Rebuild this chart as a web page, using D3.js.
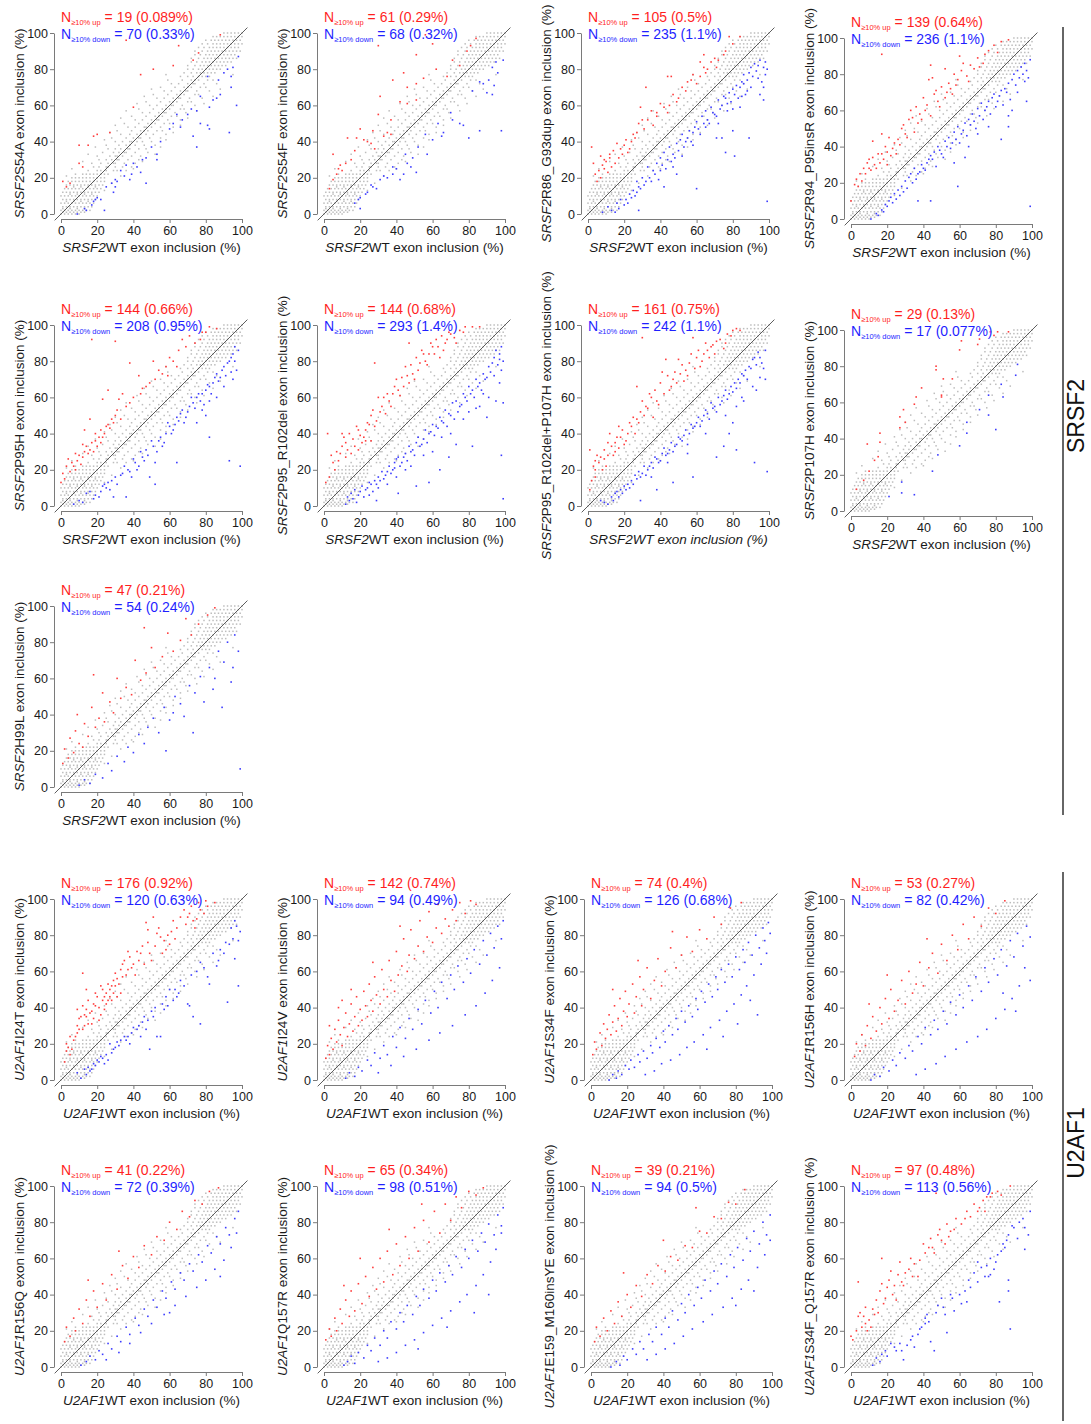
<!DOCTYPE html>
<html><head><meta charset="utf-8">
<script src="https://cdn.jsdelivr.net/npm/d3@7"></script>
<style>body{margin:0;background:#fff}svg{display:block;font-family:"Liberation Sans",Arial,sans-serif}</style>
</head><body><svg id="fig" width="1091" height="1424"></svg>
<script>
// ---- panel labels ----
const genes = ["SRSF2","SRSF2","SRSF2","SRSF2","SRSF2","SRSF2","SRSF2","SRSF2","SRSF2",
  "U2AF1","U2AF1","U2AF1","U2AF1","U2AF1","U2AF1","U2AF1","U2AF1"];
const mutants = ["S54A","S54F","R86_G93dup","R94_P95insR","P95H","P95_R102del","P95_R102del+P107H","P107H","H99L",
  "I24T","I24V","S34F","R156H","R156Q","Q157R","E159_M160insYE","S34F_Q157R"];
const upCount = [19,61,105,139,144,144,161,29,47,176,142,74,53,41,65,39,97];
const upPct = ["0.089","0.29","0.5","0.64","0.66","0.68","0.75","0.13","0.21","0.92","0.74","0.4","0.27","0.22","0.34","0.21","0.48"];
const downCount = [70,68,235,236,208,293,242,17,54,120,94,126,82,72,98,94,113];
const downPct = ["0.33","0.32","1.1","1.1","0.95","1.4","1.1","0.077","0.24","0.63","0.49","0.68","0.42","0.39","0.51","0.5","0.56"];
const tickValues = [0,20,40,60,80,100];
const groupNames = ["SRSF2","U2AF1"];

// ---- non-significant exons (shared cloud), listed as [y, [x...]] rows ----
const bgRows = [
 [0,[0,2,4,6,8,10]],[1,[1,3,5,7,9,11,13]],[2,[0,2,4,6,8,10,12,14,16]],[3,[1,5,9,13]],
 [4,[1,3,5,7,9,11,13,15,17]],[6,[0,2,4,6,8,10,12,14,16,18]],[7,[3,7,11,15]],
 [8,[1,3,5,7,9,11,13,15,17,19]],[10,[0,2,4,6,8,10,12,14,16,18,20]],[11,[5,9,13,17]],
 [12,[1,3,5,7,9,11,13,15,17,19,21]],[13,[24]],[14,[2,4,6,8,10,12,14,16,18,20,22]],[15,[7,11,15,19]],
 [16,[3,5,7,9,11,13,15,17,19,21,23]],[17,[28]],[18,[4,6,8,10,12,14,16,18,20,22,24]],
 [20,[6,8,10,12,14,16,18,20,22,24]],[21,[3,33]],[22,[8,12,14,16,18,20,22,24,26]],
 [24,[15,20,22,25,29,31,36]],[25,[6,40]],[26,[18,21,25,26,30,34,39]],[28,[17,22,26,29,30,35,41]],
 [29,[12,45]],[30,[21,25,28,31,32,37,43]],[32,[20,27,30,31,34,39,44]],[33,[15,52]],
 [34,[23,29,32,35,36,41,48]],[36,[26,30,33,37,38,43,47]],[37,[19,55]],[38,[25,32,36,38,41,46,52]],
 [40,[30,34,38,39,42,45,50]],[41,[24,58]],[42,[28,36,40,43,44,49,55]],[44,[33,38,42,44,47,51,58]],
 [45,[27,62]],[46,[31,39,44,46,48,53,56]],[48,[37,41,46,47,50,55,62]],[49,[30,66]],
 [50,[35,43,48,50,52,57,60]],[52,[41,45,50,53,54,59,66]],[53,[33,70]],[54,[39,47,52,54,56,61,64]],
 [56,[45,49,54,57,58,63,69]],[57,[36,75]],[58,[43,51,56,58,60,66,68]],[60,[49,53,58,61,62,67,74]],
 [61,[42,79]],[62,[47,55,60,62,64,70,72]],[64,[53,57,62,65,66,71,78]],[65,[46,84]],
 [66,[51,59,64,66,68,74,76]],[68,[57,61,66,69,70,75,82]],[69,[50,88]],[70,[55,63,68,70,72,77,80]],
 [72,[61,65,70,73,74,79,86]],[74,[59,67,72,74,76,81,84]],
 [76,[66,70,73,76,78,80,82]],[77,[58,95]],[78,[68,72,75,77,79,81,83,85]],[80,[70,73,76,78,80,82,84,86,88]],
 [82,[70,74,77,79,81,83,85,87,89,91]],[84,[72,75,78,80,82,84,86,88,90,92,94]],
 [86,[72,76,79,81,83,85,87,89,91,93,95,97]],[88,[74,77,80,82,84,86,88,90,92,94,96]],
 [90,[74,78,81,83,85,87,89,91,93,95,97,99]],[92,[76,79,82,84,86,88,90,92,94,96,98]],
 [94,[78,81,84,86,88,90,92,94,96,98,100]],[96,[80,83,85,87,89,91,93,95,97,99]],
 [98,[84,86,88,90,92,94,96,98,100]],[100,[90,92,94,96,98,100]]
];

// ---- exons with >=10% higher inclusion in the mutant, [WT, mutant] ----
const upPoints = [
 [[88,99],[65,93],[76,89],[62,82],[44,77],[51,80],[40,59],[20,44],[18,43],[10,38],[15,38],[10,28],[1,18],[5,17],[3,15],[73,85],[36,96],[27,45],[12,26]],
 [[56,99],[60,94],[51,88],[44,78],[38,74],[46,70],[51,72],[31,65],[51,63],[46,61],[30,55],[37,52],[35,45],[33,43],[27,46],[20,47],[18,42],[13,42],[22,41],[9,27],[10,24],[7,22],[5,19],[3,14],[5,33],[75,82],[71,85],[81,93],[84,97],[79,90],[68,76],[42,62],[26,39],[28,36],[37,44],[12,28],[17,35],[30,93],[24,40],[15,30],[8,25],[62,80],[55,75]],
 [[2,37],[4,22],[5,18],[7,20],[9,25],[10,29],[12,31],[14,35],[16,39],[17,31],[19,33],[21,41],[23,36],[25,44],[27,45],[28,50],[30,52],[29,59],[32,70],[35,57],[38,54],[40,61],[42,59],[46,76],[49,62],[52,70],[55,73],[58,77],[60,72],[64,81],[65,78],[68,84],[70,86],[71,81],[75,88],[76,90],[80,94],[84,98],[78,98],[64,88],[44,56],[3,28],[6,24],[8,27],[11,23],[13,26],[15,28],[18,36],[20,38],[22,34],[24,40],[26,42],[12,33],[9,30],[7,32],[31,47],[33,52],[36,49],[47,66],[50,64],[54,68],[57,74],[62,76],[66,80],[72,85],[45,60],[38,56],[62,84],[44,76]],
 [[0,10],[2,19],[4,18],[6,21],[8,25],[9,31],[10,28],[11,27],[12,34],[13,30],[15,36],[16,31],[18,33],[20,30],[20,37],[21,45],[17,47],[12,43],[24,42],[25,36],[26,44],[28,50],[30,47],[32,55],[33,60],[34,56],[36,62],[38,58],[40,67],[42,63],[43,77],[44,85],[46,69],[48,65],[50,73],[52,67],[54,75],[56,69],[57,80],[59,77],[61,82],[64,79],[66,85],[68,83],[70,89],[73,86],[76,93],[79,96],[83,98],[87,99],[17,91],[3,22],[5,25],[7,28],[10,33],[14,28],[17,36],[19,40],[22,35],[23,39],[27,41],[29,52],[31,45],[35,48],[37,53],[39,55],[41,60],[44,57],[47,71],[49,62],[53,70],[55,72],[58,74],[62,86],[65,76],[71,84],[74,91],[81,92],[60,90],[52,83],[45,78]],
 [[0,13],[1,18],[3,22],[5,19],[6,24],[8,20],[9,25],[10,28],[12,27],[13,30],[14,33],[16,31],[17,35],[19,36],[20,33],[21,38],[22,42],[25,44],[26,45],[28,48],[31,53],[32,59],[34,62],[38,57],[38,79],[43,72],[45,65],[49,68],[51,80],[52,70],[56,73],[58,77],[60,82],[64,77],[65,86],[67,92],[71,94],[77,92],[78,96],[82,99],[86,98],[30,91],[17,92],[26,64],[23,59],[16,48],[13,42],[2,15],[4,26],[7,22],[11,23],[15,29],[18,30],[19,40],[22,35],[23,38],[24,40],[27,43],[29,46],[30,50],[33,48],[36,55],[40,60],[44,62],[47,66],[54,75],[59,72],[62,80],[69,88],[74,90],[80,96],[8,29],[12,34]],
 [[1,13],[2,40],[3,16],[5,24],[6,20],[8,25],[9,29],[10,33],[12,27],[12,35],[13,31],[15,29],[16,37],[17,33],[19,31],[21,35],[22,38],[23,42],[24,46],[25,45],[26,36],[27,53],[29,47],[30,60],[32,55],[34,51],[36,58],[38,62],[39,66],[41,64],[43,71],[45,77],[47,68],[49,73],[51,82],[52,75],[54,86],[56,80],[58,84],[60,88],[62,92],[64,82],[65,94],[67,90],[69,96],[72,93],[75,97],[78,99],[82,99],[86,99],[47,90],[28,79],[19,42],[10,40],[4,28],[7,30],[11,38],[14,40],[18,44],[20,39],[23,36],[26,50],[28,44],[31,52],[33,60],[35,62],[37,55],[40,70],[42,61],[44,66],[46,72],[48,78],[50,70],[53,79],[55,84],[57,78],[59,90],[61,84],[63,88],[66,86],[68,92],[70,95],[73,90],[77,96]],
 [[1,9],[1,31],[4,16],[4,20],[6,24],[7,27],[9,31],[10,22],[11,28],[13,33],[15,35],[16,38],[17,32],[19,42],[21,36],[23,46],[25,49],[27,48],[29,52],[27,66],[30,58],[32,55],[34,62],[36,49],[38,58],[40,68],[41,74],[43,81],[45,64],[47,70],[49,68],[50,81],[51,73],[53,69],[54,75],[56,79],[58,93],[60,82],[62,77],[64,84],[66,86],[67,82],[69,89],[71,91],[75,87],[77,95],[80,97],[84,97],[30,93],[17,44],[12,40],[4,25],[2,14],[3,22],[5,28],[8,20],[9,26],[11,35],[14,28],[15,30],[18,38],[20,34],[22,40],[24,44],[26,40],[28,46],[31,50],[33,54],[35,60],[37,64],[39,56],[42,62],[44,72],[46,66],[48,74],[52,78],[55,72],[57,84],[59,76],[61,86],[63,80],[65,90],[68,88],[70,84],[73,92],[76,90],[79,94],[82,98]],
 [[9,37],[10,22],[7,17],[13,28],[16,38],[16,43],[15,30],[27,46],[27,52],[29,56],[30,49],[36,63],[39,68],[47,80],[47,78],[51,73],[50,64],[50,63],[56,73],[61,94],[60,89],[70,92],[71,95],[79,97],[81,99],[87,99],[77,99],[35,59],[3,12]],
 [[1,13],[2,21],[4,16],[5,27],[7,19],[8,31],[10,24],[12,22],[13,35],[15,28],[17,44],[19,33],[21,38],[23,52],[24,36],[27,47],[29,41],[31,60],[33,49],[36,55],[39,51],[41,70],[44,59],[47,63],[50,77],[52,66],[56,72],[59,85],[62,75],[66,81],[69,93],[72,84],[76,90],[81,95],[85,99],[18,62],[9,40],[46,88]],
 [[2,10],[3,16],[4,18],[5,24],[6,17],[8,24],[9,26],[10,28],[11,35],[12,41],[13,30],[14,35],[14,39],[15,31],[16,37],[17,31],[18,42],[19,41],[20,46],[21,33],[22,52],[23,44],[24,39],[25,48],[26,44],[26,53],[27,50],[28,44],[29,55],[30,59],[31,46],[32,53],[33,61],[34,57],[35,66],[37,61],[37,71],[38,68],[40,64],[42,71],[44,70],[46,64],[47,87],[48,83],[49,70],[51,90],[53,81],[55,79],[57,77],[58,72],[60,75],[62,88],[64,84],[68,94],[70,90],[71,92],[73,88],[75,89],[77,94],[79,92],[81,96],[85,98],[12,59],[14,50],[9,39],[3,20],[5,14],[7,22],[9,30],[10,34],[12,28],[13,36],[15,44],[17,38],[18,34],[19,48],[21,40],[22,36],[23,50],[24,46],[25,42],[27,46],[28,52],[29,48],[30,52],[31,56],[33,48],[34,64],[36,58],[39,62],[41,58],[43,66],[45,74],[48,76],[50,66],[52,74],[54,84],[56,70],[59,80],[61,82],[63,78],[66,90],[69,86],[72,96],[74,84],[76,98],[80,99]],
 [[1,12],[2,19],[3,14],[4,23],[5,17],[6,28],[7,21],[8,33],[9,25],[10,19],[11,29],[12,37],[13,24],[14,31],[15,42],[16,27],[17,35],[18,46],[19,30],[20,39],[21,33],[22,49],[23,41],[24,35],[25,53],[26,44],[27,38],[28,57],[29,47],[31,42],[32,61],[33,50],[35,46],[36,66],[37,55],[39,49],[40,71],[41,58],[43,63],[44,78],[46,60],[47,69],[48,83],[50,67],[52,74],[53,88],[55,71],[57,79],[58,93],[60,76],[62,84],[63,97],[65,81],[67,89],[69,85],[71,94],[73,88],[75,98],[78,92],[81,99],[84,97],[8,40],[15,50],[27,65],[42,85],[3,30],[10,44]],
 [[1,14],[2,21],[3,17],[5,26],[6,19],[7,31],[8,23],[9,28],[10,36],[11,25],[12,32],[13,41],[14,27],[15,34],[16,45],[17,30],[18,38],[19,49],[20,35],[21,42],[23,53],[24,37],[25,46],[27,57],[28,41],[29,50],[31,62],[33,45],[35,55],[37,67],[39,52],[41,60],[44,73],[47,62],[50,69],[53,79],[56,71],[60,83],[64,78],[68,90],[72,86],[77,95],[83,98],[12,50],[26,66],[45,82]],
 [[2,13],[3,20],[5,16],[6,25],[8,19],[9,30],[11,23],[12,35],[14,27],[16,40],[17,31],[19,45],[21,34],[22,50],[24,38],[26,44],[28,55],[30,42],[32,60],[34,48],[36,53],[38,65],[40,52],[43,62],[45,70],[48,59],[50,75],[53,66],[56,80],[59,72],[62,86],[65,78],[68,90],[72,85],[76,95],[80,92],[85,99],[20,58],[10,42],[42,78]],
 [[2,14],[3,22],[5,17],[7,27],[8,20],[10,32],[12,24],[14,37],[16,28],[18,42],[20,33],[23,46],[25,37],[28,51],[31,43],[34,56],[37,49],[40,61],[43,55],[46,67],[50,62],[53,72],[57,70],[60,80],[64,76],[67,86],[71,83],[74,92],[78,90],[82,97],[87,99],[15,48],[32,64]],
 [[1,15],[3,21],[4,17],[6,27],[7,20],[9,32],[10,24],[12,37],[14,28],[15,42],[17,31],[19,46],[21,35],[23,50],[25,39],[27,55],[29,43],[31,60],[33,47],[35,64],[38,51],[40,68],[42,56],[45,72],[47,60],[50,77],[52,64],[55,81],[58,69],[61,86],[64,74],[67,90],[70,81],[73,94],[76,88],[80,97],[84,95],[88,99],[20,60],[36,76],[11,45],[54,90]],
 [[2,14],[3,22],[5,17],[7,27],[9,20],[11,31],[13,24],[15,36],[17,28],[20,40],[22,33],[25,45],[28,39],[31,51],[34,46],[37,56],[41,53],[44,61],[48,59],[52,67],[56,66],[60,75],[64,74],[68,83],[72,82],[76,91],[80,90],[85,98],[18,52],[40,70],[58,88]],
 [[0,17],[1,15],[4,47],[4,28],[6,22],[8,33],[8,24],[10,26],[11,22],[13,29],[14,37],[16,42],[17,46],[17,60],[18,35],[20,44],[22,53],[24,45],[25,37],[27,58],[28,47],[29,45],[32,54],[34,50],[35,57],[38,59],[41,63],[43,66],[44,71],[46,63],[48,73],[50,70],[52,68],[53,79],[55,75],[57,76],[61,79],[63,82],[66,83],[70,86],[71,88],[74,86],[75,94],[77,94],[81,97],[83,95],[88,100],[47,96],[26,51],[3,20],[5,30],[7,28],[9,20],[12,32],[15,30],[19,38],[21,48],[23,40],[30,52],[33,60],[37,50],[40,68],[45,66],[49,76],[54,72],[58,82],[64,86],[68,90],[73,92],[78,96]]
];

// ---- exons with >=10% lower inclusion in the mutant, [WT, mutant] ----
const downPoints = [
 [[98,87],[95,81],[94,76],[87,74],[94,70],[81,76],[77,65],[84,63],[88,66],[97,60],[82,59],[75,57],[67,52],[77,50],[81,49],[82,47],[93,45],[73,43],[75,37],[62,50],[64,55],[50,37],[53,33],[53,30],[47,31],[44,23],[39,22],[42,26],[36,27],[35,21],[33,24],[38,19],[47,17],[30,19],[25,15],[31,18],[18,7],[22,8],[17,5],[19,8],[14,2],[13,3],[24,2],[29,12],[30,15],[9,0],[55,40],[66,48],[70,55],[86,64],[90,78],[92,80],[60,47],[45,30],[40,28],[72,58],[28,17],[20,9]],
 [[99,85],[93,81],[96,78],[91,74],[86,73],[94,71],[90,67],[93,66],[98,46],[80,42],[71,52],[75,50],[77,49],[66,45],[65,43],[60,41],[52,37],[49,31],[46,28],[40,25],[38,22],[35,20],[31,19],[42,19],[29,14],[24,12],[20,9],[19,8],[20,3],[51,23],[86,46],[57,33],[48,26],[44,22],[26,16],[23,11],[70,56],[82,68],[88,72],[95,84],[63,50],[56,44],[45,33],[38,26],[33,21],[27,15],[17,6]],
 [[8,1],[13,2],[16,6],[18,8],[21,8],[23,11],[25,13],[27,18],[28,15],[30,20],[33,26],[36,24],[38,28],[40,31],[42,34],[45,37],[47,33],[49,39],[51,41],[52,44],[54,40],[56,46],[59,48],[60,51],[63,54],[64,50],[65,57],[68,59],[70,55],[72,63],[75,65],[77,61],[78,67],[80,69],[82,71],[85,73],[86,77],[89,78],[90,81],[92,83],[95,85],[97,81],[98,77],[94,75],[88,68],[95,66],[97,63],[84,59],[74,42],[80,46],[89,42],[81,32],[76,34],[71,42],[60,14],[99,7],[49,22],[42,15],[39,19],[28,2],[11,4],[20,5],[24,9],[26,10],[29,14],[31,16],[34,20],[35,18],[37,22],[41,27],[43,25],[44,30],[46,29],[48,31],[50,35],[53,37],[55,42],[57,40],[58,45],[61,47],[62,44],[66,52],[67,50],[69,56],[71,54],[73,58],[74,60],[76,64],[77,57],[79,62],[81,66],[83,64],[84,70],[86,72],[87,66],[88,74],[90,70],[91,76],[93,79],[94,82],[96,73],[97,70],[98,84],[99,80],[85,65],[80,58],[72,50],[65,48],[58,38],[52,32],[47,26],[40,24],[32,18],[27,12],[22,6],[17,3],[15,1]],
 [[11,0],[14,3],[17,5],[19,8],[21,10],[22,12],[24,14],[26,16],[28,18],[30,21],[32,23],[33,25],[35,28],[37,25],[39,30],[41,27],[43,33],[44,35],[46,37],[48,40],[50,36],[52,43],[54,45],[56,42],[57,48],[59,51],[61,47],[63,53],[65,55],[67,58],[68,54],[70,61],[72,64],[74,60],[76,65],[78,67],[79,69],[81,65],[83,71],[85,72],[87,75],[89,77],[90,80],[92,82],[94,84],[96,86],[98,78],[97,65],[87,57],[83,44],[76,51],[70,47],[65,40],[63,34],[57,31],[59,18],[44,10],[37,10],[99,7],[87,51],[15,2],[18,4],[20,7],[23,9],[25,11],[27,13],[29,15],[31,17],[34,20],[36,22],[38,26],[40,28],[42,31],[45,33],[47,29],[49,38],[51,34],[53,40],[55,39],[58,44],[60,42],[62,49],[64,46],[66,52],[69,50],[71,57],[73,55],[75,62],[77,58],[80,62],[82,68],[84,63],[86,70],[88,66],[91,74],[93,78],[95,80],[97,82],[99,88],[96,76],[92,70],[89,60]],
 [[7,1],[10,3],[14,7],[16,8],[19,6],[21,5],[23,11],[25,10],[26,13],[29,5],[30,16],[34,18],[37,20],[39,16],[41,24],[43,22],[45,27],[47,31],[51,33],[52,24],[54,36],[56,33],[58,40],[60,44],[62,42],[64,49],[65,47],[67,53],[69,49],[71,55],[73,57],[75,60],[77,58],[78,62],[80,64],[82,66],[84,68],[86,73],[88,71],[90,77],[92,79],[94,82],[95,84],[96,88],[97,75],[95,70],[90,66],[82,58],[78,53],[82,38],[93,25],[99,22],[64,24],[49,16],[52,12],[36,5],[12,2],[18,4],[22,8],[24,12],[27,9],[28,14],[31,12],[33,17],[35,22],[38,19],[40,26],[42,20],[44,30],[46,25],[48,28],[50,36],[53,30],[55,38],[57,35],[59,46],[61,40],[63,45],[66,51],[68,46],[70,52],[72,60],[74,54],[76,62],[79,56],[81,67],[83,62],[85,71],[87,69],[89,75],[91,72],[93,80],[94,74],[96,80],[98,86],[86,60],[80,50],[75,46]],
 [[12,1],[13,5],[15,7],[17,9],[19,6],[21,11],[23,9],[25,13],[26,12],[28,14],[29,3],[30,16],[32,19],[34,17],[36,22],[38,20],[39,24],[41,27],[43,24],[45,29],[47,33],[49,31],[51,35],[52,38],[54,34],[56,42],[58,40],[60,45],[62,44],[64,49],[65,47],[67,53],[69,51],[71,57],[73,58],[75,55],[77,62],[78,60],[80,66],[82,64],[84,70],[86,68],[88,73],[90,71],[91,77],[93,79],[94,82],[95,86],[97,81],[98,75],[97,68],[95,58],[90,49],[86,55],[82,33],[73,34],[69,27],[64,20],[58,13],[51,11],[41,7],[99,4],[99,57],[98,28],[14,3],[16,4],[18,2],[20,8],[22,5],[24,10],[27,8],[29,12],[31,14],[33,15],[35,19],[37,18],[39,21],[40,26],[42,22],[44,27],[46,25],[48,30],[50,28],[53,33],[55,37],[57,35],[59,41],[61,39],[63,43],[66,46],[68,44],[70,50],[72,48],[74,52],[76,56],[79,58],[81,62],[83,60],[85,66],[87,64],[89,70],[92,74],[94,72],[96,78],[97,84],[98,88],[99,80],[91,60],[88,62],[84,54],[80,52],[77,48],[70,40],[65,38],[60,30],[55,28],[48,22],[45,20],[40,16],[35,12],[30,10],[25,6]],
 [[7,3],[11,1],[13,5],[15,7],[16,8],[18,9],[20,11],[22,12],[24,14],[26,17],[28,19],[29,16],[29,3],[31,22],[33,20],[35,24],[37,27],[39,24],[41,29],[42,32],[44,29],[46,35],[48,33],[50,38],[52,36],[54,42],[55,29],[57,45],[59,44],[61,49],[63,47],[65,53],[66,51],[68,57],[70,55],[72,60],[74,58],[76,64],[78,62],[79,66],[81,68],[83,70],[85,73],[87,75],[89,77],[91,81],[92,82],[94,85],[96,79],[95,71],[98,70],[93,64],[86,58],[82,55],[80,46],[82,31],[78,40],[75,33],[71,27],[58,16],[47,13],[38,9],[99,19],[92,24],[9,2],[14,3],[17,5],[19,7],[21,9],[23,10],[25,12],[27,15],[30,18],[32,17],[34,22],[36,21],[38,26],[40,25],[43,28],[45,31],[47,30],[49,34],[51,37],[53,39],[56,40],[58,43],[60,46],[62,44],[64,50],[67,48],[69,54],[71,52],[73,56],[75,61],[77,59],[80,63],[82,65],[84,68],[86,72],[88,70],[90,76],[93,78],[95,82],[97,76],[98,86],[91,66],[85,60],[76,50],[65,40],[55,34],[44,24],[35,16]],
 [[35,9],[28,10],[21,8],[28,16],[48,31],[60,36],[64,43],[71,56],[76,53],[76,64],[84,63],[83,70],[80,45],[92,81],[64,49],[45,22],[91,75]],
 [[10,1],[13,4],[16,2],[19,7],[23,5],[26,13],[28,9],[31,17],[35,14],[37,22],[40,19],[43,29],[46,24],[48,33],[51,38],[54,30],[57,44],[60,37],[63,50],[66,46],[68,39],[71,56],[74,52],[77,61],[79,47],[82,66],[85,60],[87,75],[90,69],[92,80],[94,58],[96,84],[98,75],[99,10],[89,44],[73,30],[58,20],[95,66],[84,54],[62,41]],
 [[9,4],[13,6],[15,7],[16,5],[18,9],[20,11],[22,13],[24,9],[26,11],[27,20],[29,17],[31,21],[33,22],[37,24],[38,20],[40,29],[42,28],[44,24],[46,35],[48,33],[49,17],[51,35],[53,24],[55,24],[57,39],[59,41],[60,50],[62,44],[64,46],[66,55],[70,42],[71,41],[73,35],[77,31],[77,65],[81,57],[82,53],[86,63],[88,72],[90,70],[93,75],[95,78],[97,85],[98,77],[96,67],[98,52],[92,43],[11,1],[14,3],[17,6],[19,8],[21,10],[23,12],[25,14],[28,15],[30,18],[32,19],[35,24],[36,22],[39,26],[43,30],[45,32],[47,28],[50,38],[52,40],[56,42],[58,46],[63,50],[65,48],[68,52],[72,58],[75,60],[79,62],[84,70],[87,66],[91,76],[94,84],[96,88],[99,82]],
 [[12,1],[14,4],[17,2],[19,7],[21,5],[24,11],[26,8],[28,15],[31,12],[33,19],[35,14],[38,24],[40,18],[42,29],[45,23],[47,34],[49,28],[52,39],[54,31],[56,44],[59,37],[61,49],[63,40],[65,54],[68,45],[70,58],[72,50],[74,63],[77,54],[79,67],[81,59],[83,72],[86,64],[88,77],[90,69],[92,81],[94,73],[96,85],[98,78],[99,88],[97,62],[93,55],[89,48],[84,41],[78,36],[71,30],[64,26],[58,22],[51,17],[44,13],[37,8],[30,4]],
 [[10,0],[12,3],[14,1],[15,5],[17,3],[19,8],[21,6],[22,11],[24,7],[26,14],[27,10],[29,16],[31,12],[33,19],[34,15],[36,23],[38,18],[40,27],[41,21],[43,30],[45,25],[47,34],[48,28],[50,38],[52,32],[54,41],[56,35],[58,45],[59,39],[61,49],[63,43],[65,53],[67,46],[69,57],[70,50],[72,61],[74,54],[76,64],[78,57],[80,68],[82,61],[84,72],[85,65],[87,76],[89,69],[91,80],[93,73],[95,84],[96,77],[98,87],[99,81],[97,70],[94,64],[90,58],[86,52],[83,47],[79,42],[75,38],[71,33],[66,29],[62,25],[57,21],[53,18],[49,14],[44,11],[39,9],[35,5],[30,3],[88,44],[92,36],[81,31],[73,24],[64,17]],
 [[11,0],[13,3],[16,2],[18,7],[21,5],[23,11],[25,8],[27,15],[30,12],[32,19],[34,16],[37,24],[39,20],[41,29],[44,25],[46,33],[48,28],[51,38],[53,31],[55,43],[58,36],[60,47],[62,40],[65,52],[67,44],[69,57],[72,49],[74,62],[76,54],[79,67],[81,58],[83,72],[86,63],[88,77],[90,68],[92,81],[95,74],[97,85],[99,79],[96,62],[93,52],[89,45],[85,39],[80,34],[75,28],[70,24],[64,21],[58,17],[52,13],[47,9],[41,6],[36,3],[91,38],[99,55],[84,48]],
 [[11,1],[14,3],[16,6],[19,4],[21,9],[23,7],[26,13],[28,10],[31,17],[33,14],[36,22],[38,18],[41,27],[43,23],[46,32],[48,28],[51,37],[53,33],[56,42],[58,38],[61,47],[63,43],[66,52],[68,48],[71,57],[73,53],[76,62],[78,58],[81,67],[83,63],[86,72],[88,68],[91,77],[93,73],[96,82],[98,86],[97,74],[94,66],[90,59],[85,54],[80,48],[75,44],[69,39],[63,34],[57,29],[50,24],[44,19],[38,13],[32,8],[25,4],[88,50],[60,30]],
 [[11,1],[13,3],[15,6],[17,2],[19,8],[22,5],[24,12],[26,9],[28,16],[31,12],[33,20],[35,16],[37,25],[40,21],[42,30],[44,25],[46,34],[49,29],[51,39],[53,34],[55,43],[58,38],[60,48],[62,42],[64,52],[67,47],[69,56],[71,51],[73,61],[76,55],[78,65],[80,60],[82,70],[85,64],[87,74],[89,69],[91,79],[94,73],[96,84],[98,78],[99,88],[95,65],[92,58],[88,51],[84,45],[79,40],[75,36],[70,31],[65,27],[60,23],[55,19],[50,15],[45,12],[40,8],[35,5],[30,3],[91,40],[83,30],[98,74],[68,22],[52,10]],
 [[11,0],[14,3],[16,1],[18,6],[20,4],[23,10],[25,7],[27,14],[29,10],[32,18],[34,14],[36,22],[39,18],[41,27],[43,22],[45,31],[48,26],[50,35],[52,30],[54,40],[57,34],[59,44],[61,38],[63,48],[66,42],[68,53],[70,46],[72,57],[75,50],[77,62],[79,55],[81,66],[84,59],[86,71],[88,64],[90,75],[93,68],[95,80],[97,73],[99,84],[96,62],[92,55],[87,48],[83,43],[78,38],[73,33],[67,29],[62,25],[56,21],[51,17],[46,13],[41,10],[36,7],[31,4],[90,42],[80,34],[99,70]],
 [[12,1],[14,5],[17,7],[19,9],[22,13],[24,11],[27,13],[28,9],[29,4],[31,12],[34,17],[35,11],[37,18],[39,22],[41,27],[41,24],[42,29],[44,14],[46,9],[48,34],[50,38],[52,29],[53,19],[55,40],[57,31],[61,35],[63,42],[64,36],[66,44],[70,47],[72,55],[74,50],[76,50],[77,51],[79,54],[81,62],[83,64],[85,66],[87,73],[89,78],[90,77],[92,71],[96,77],[98,73],[96,65],[87,48],[87,42],[88,21],[82,36],[70,58],[77,60],[16,3],[20,6],[25,9],[33,15],[38,21],[43,25],[47,30],[51,33],[56,38],[60,40],[65,48],[68,52],[75,56],[80,58],[84,68],[86,70],[93,80],[95,82],[99,86]]
];

// ---- layout ----
const svg = d3.select("#fig");
const SIZE = 181;                       // pixel length of 0..100 on both axes
const colX = [61, 324, 588, 851];
const rowY = [214, 506, 787, 1080, 1367];
const FONT = '"Liberation Sans", Arial, sans-serif';

function origin(i) {
  let col, row;
  if (i < 9) { col = i % 4; row = Math.floor(i / 4); }
  else { const j = i - 9; col = j % 4; row = 3 + Math.floor(j / 4); }
  let x0 = colX[col], y0 = rowY[row];
  if (i === 3 || i === 7) y0 += 5;
  if (col === 2 && row >= 3) x0 += 3;
  return { x0, y0 };
}

const background = [];
bgRows.forEach(([yv, xs]) => xs.forEach(xv => background.push([xv, yv])));

function drawDots(g, pts, x, y, fill, size) {
  g.append("g").selectAll("rect").data(pts).join("rect")
    .attr("x", d => x(d[0]) - size / 2)
    .attr("y", d => y(d[1]) - size / 2)
    .attr("width", size).attr("height", size)
    .attr("fill", fill);
}

mutants.forEach((mut, i) => {
  const { x0, y0 } = origin(i);
  const gene = genes[i];
  const x = d3.scaleLinear().domain([0, 100]).range([x0, x0 + SIZE]);
  const y = d3.scaleLinear().domain([0, 100]).range([y0, y0 - SIZE]);
  const g = svg.append("g");

  // scatter
  drawDots(g, background, x, y, "#bdbdbd", 1.5);
  drawDots(g, upPoints[i], x, y, "#ff3c3c", 1.6);
  drawDots(g, downPoints[i], x, y, "#3c3cff", 1.6);

  // identity line
  g.append("line")
    .attr("x1", x(-3.5)).attr("y1", y(-3.5))
    .attr("x2", x(103)).attr("y2", y(103))
    .attr("stroke", "#4a4a4a").attr("stroke-width", 0.9);

  // axes
  const yAxis = g.append("g").attr("transform", `translate(${x0 - 7},0)`)
    .call(d3.axisLeft(y).tickValues(tickValues).tickSize(4).tickSizeOuter(0).tickPadding(2));
  const xAxis = g.append("g").attr("transform", `translate(0,${y0 + 5})`)
    .call(d3.axisBottom(x).tickValues(tickValues).tickSize(4).tickSizeOuter(0).tickPadding(3));
  [yAxis, xAxis].forEach(a => {
    a.attr("font-family", FONT).attr("font-size", 12.5);
    a.select(".domain").attr("stroke", "#7a7a7a");
    a.selectAll(".tick line").attr("stroke", "#7a7a7a");
    a.selectAll(".tick text").attr("fill", "#1a1a1a");
  });

  // axis titles
  const yt = g.append("text")
    .attr("transform", `translate(${x0 - 37},${(y(0) + y(100)) / 2}) rotate(-90)`)
    .attr("text-anchor", "middle").attr("font-size", 13.5).attr("fill", "#1a1a1a");
  yt.append("tspan").attr("font-style", "italic").text(gene);
  yt.append("tspan").text(mut + " exon inclusion (%)");

  const xt = g.append("text")
    .attr("x", (x(0) + x(100)) / 2).attr("y", y0 + 38)
    .attr("text-anchor", "middle").attr("font-size", 13.5).attr("fill", "#1a1a1a");
  if (mut === "P95_R102del+P107H") xt.attr("font-style", "italic");
  xt.append("tspan").attr("font-style", "italic").text(gene);
  xt.append("tspan").text("WT exon inclusion (%)");

  // counts of changed exons
  const header = [
    { sub: "\u226510% up", n: upCount[i], pct: upPct[i], color: "#ff1f1f", yy: y(100) - 11.5 },
    { sub: "\u226510% down", n: downCount[i], pct: downPct[i], color: "#1f1fff", yy: y(100) + 5.5 }
  ];
  header.forEach(h => {
    const t = g.append("text").attr("x", x0).attr("y", h.yy)
      .attr("fill", h.color).attr("font-size", 14);
    t.append("tspan").text("N");
    t.append("tspan").attr("font-size", 7.5).attr("dy", 3).text(h.sub);
    t.append("tspan").attr("dy", -3).text(` = ${h.n} (${h.pct}%)`);
  });
});

// gene group brackets on the right
const groupSpan = [[27, 815], [872, 1421]];
groupNames.forEach((name, k) => {
  const [a, b] = groupSpan[k];
  svg.append("line").attr("x1", 1063).attr("x2", 1063).attr("y1", a).attr("y2", b)
    .attr("stroke", "#333").attr("stroke-width", 1.5);
  svg.append("text")
    .attr("transform", `translate(1084,${k === 0 ? 416 : 1143}) rotate(-90)`)
    .attr("text-anchor", "middle").attr("font-size", 23).attr("fill", "#111")
    .text(name);
});
</script>
</body></html>
